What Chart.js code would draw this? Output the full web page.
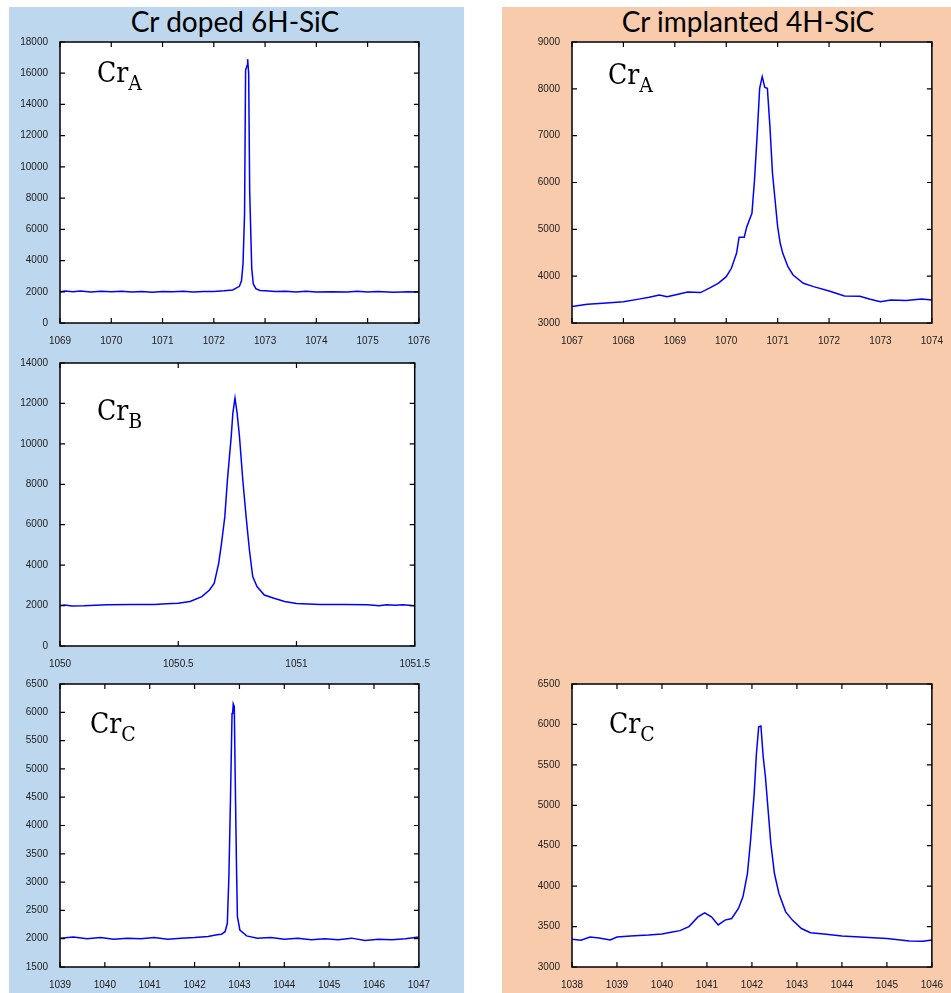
<!DOCTYPE html>
<html><head><meta charset="utf-8">
<script src="https://cdn.jsdelivr.net/npm/chart.js@4"></script>
<style>
html,body{margin:0;padding:0;background:#fff;}
body{width:951px;height:993px;position:relative;overflow:hidden;}
.panel{position:absolute;}
.title{position:absolute;font-family:Lato,"Open Sans",sans-serif;font-size:28px;line-height:34px;text-align:center;color:#000;white-space:nowrap;}
.lbl{position:absolute;font-family:"DejaVu Serif",serif;font-stretch:condensed;font-size:28px;line-height:28px;color:#000;white-space:nowrap;}
.lbl span{position:relative;top:8px;font-size:21px;}
canvas{position:absolute;}
</style></head><body>
<div class="panel" style="left:9px;top:7px;width:455px;height:986px;background:#BDD7EE"></div>
<div class="panel" style="left:502px;top:7px;width:449px;height:986px;background:#F8CBAD"></div>
<div class="title" style="left:35px;top:4px;width:400px;">Cr doped 6H-SiC</div>
<div class="title" style="left:548px;top:4px;width:400px;">Cr implanted 4H-SiC</div>
<canvas id="c1"></canvas>
<canvas id="c2"></canvas>
<canvas id="c3"></canvas>
<canvas id="c4"></canvas>
<canvas id="c5"></canvas>
<div class="lbl" style="left:97px;top:59px;">Cr<span>A</span></div>
<div class="lbl" style="left:608px;top:61px;">Cr<span>A</span></div>
<div class="lbl" style="left:97px;top:397px;">Cr<span>B</span></div>
<div class="lbl" style="left:90px;top:710px;">Cr<span>C</span></div>
<div class="lbl" style="left:609px;top:710px;">Cr<span>C</span></div>
<script>
// ---- Cr doped 6H-SiC, Cr_A ----
const dopedA_x = [1069.0,1069.1,1069.25,1069.4,1069.6,1069.8,1070.0,1070.2,1070.4,1070.6,1070.8,1071.0,1071.2,1071.4,1071.6,1071.8,1072.0,1072.2,1072.37,1072.5,1072.54,1072.57,1072.6,1072.62,1072.65,1072.66,1072.68,1072.7,1072.74,1072.77,1072.82,1072.9,1073.0,1073.2,1073.4,1073.6,1073.8,1074.0,1074.3,1074.6,1074.8,1075.0,1075.2,1075.5,1075.8,1076.0];
const dopedA_y = [2000,2050,2000,2050,1980,2040,2000,2030,1990,2020,1970,2020,2000,2030,1990,2020,2010,2060,2120,2350,2700,3800,7000,16200,16500,16900,16000,8400,3500,2500,2200,2080,2060,2020,2040,1990,2030,1980,2000,1980,2030,1990,2010,1970,2000,1990];
const dopedA_xTicks = [1069,1070,1071,1072,1073,1074,1075,1076];
const dopedA_yTicks = [0,2000,4000,6000,8000,10000,12000,14000,16000,18000];

// ---- Cr implanted 4H-SiC, Cr_A ----
const implA_x = [1067.0,1067.3,1067.6,1068.0,1068.3,1068.5,1068.7,1068.85,1069.0,1069.25,1069.5,1069.7,1069.85,1070.0,1070.1,1070.2,1070.25,1070.35,1070.4,1070.5,1070.55,1070.6,1070.65,1070.7,1070.75,1070.8,1070.85,1070.9,1070.95,1071.0,1071.05,1071.1,1071.2,1071.3,1071.5,1071.7,1072.0,1072.3,1072.6,1072.8,1073.0,1073.2,1073.5,1073.8,1074.0];
const implA_y = [3350,3400,3420,3455,3510,3549,3598,3560,3600,3662,3650,3760,3850,3989,4168,4488,4830,4830,5057,5342,6054,6980,8012,8260,8032,8012,7192,6196,5626,5057,4702,4488,4203,4025,3848,3776,3683,3577,3570,3506,3455,3490,3480,3510,3490];
const implA_xTicks = [1067,1068,1069,1070,1071,1072,1073,1074];
const implA_yTicks = [3000,4000,5000,6000,7000,8000,9000];

// ---- Cr doped 6H-SiC, Cr_B ----
const dopedB_x = [1050.0,1050.02,1050.05,1050.1,1050.2,1050.3,1050.4,1050.45,1050.5,1050.55,1050.6,1050.632,1050.652,1050.671,1050.683,1050.697,1050.708,1050.724,1050.731,1050.74,1050.749,1050.759,1050.773,1050.787,1050.801,1050.815,1050.833,1050.864,1050.905,1050.95,1051.0,1051.05,1051.1,1051.2,1051.3,1051.35,1051.38,1051.42,1051.45,1051.5];
const dopedB_y = [2000,2030,1980,1990,2040,2050,2050,2090,2110,2200,2440,2770,3100,4090,5080,6400,8210,10360,11520,12260,11520,10360,8210,6400,4750,3430,2940,2520,2360,2200,2100,2080,2050,2050,2040,1990,2040,2010,2040,1990];
const dopedB_xTicks = [1050,1050.5,1051,1051.5];
const dopedB_yTicks = [0,2000,4000,6000,8000,10000,12000,14000];

// ---- Cr doped 6H-SiC, Cr_C ----
const dopedC_x = [1039.0,1039.3,1039.6,1039.9,1040.2,1040.5,1040.8,1041.1,1041.4,1041.7,1042.0,1042.3,1042.5,1042.6,1042.68,1042.73,1042.765,1042.8,1042.835,1042.85,1042.862,1042.885,1042.905,1042.935,1042.955,1043.01,1043.16,1043.4,1043.7,1044.0,1044.3,1044.6,1044.9,1045.2,1045.5,1045.8,1046.1,1046.4,1046.7,1047.0];
const dopedC_y = [2010,2030,2000,2020,1990,2010,2000,2020,1990,2010,2020,2040,2070,2080,2124,2272,3096,4450,5980,6000,6150,6100,4890,3244,2389,2154,2050,2010,2020,1990,2010,1980,2000,1980,2010,1970,1990,1980,2000,2030];
const dopedC_xTicks = [1039,1040,1041,1042,1043,1044,1045,1046,1047];
const dopedC_yTicks = [1500,2000,2500,3000,3500,4000,4500,5000,5500,6000,6500];

// ---- Cr implanted 4H-SiC, Cr_C ----
const implC_x = [1038.0,1038.2,1038.4,1038.6,1038.85,1039.0,1039.3,1039.7,1040.0,1040.2,1040.4,1040.6,1040.8,1040.95,1041.1,1041.25,1041.4,1041.55,1041.7,1041.8,1041.9,1041.97,1042.05,1042.1,1042.15,1042.2,1042.25,1042.3,1042.36,1042.42,1042.5,1042.6,1042.75,1042.9,1043.1,1043.3,1043.6,1044.0,1044.5,1045.0,1045.5,1045.8,1046.0];
const implC_y = [3342,3330,3370,3360,3335,3370,3384,3396,3409,3430,3450,3500,3620,3670,3620,3520,3580,3600,3724,3867,4156,4568,5145,5640,5970,5980,5600,5350,4939,4527,4156,3909,3682,3580,3476,3423,3409,3384,3368,3351,3322,3320,3334];
const implC_xTicks = [1038,1039,1040,1041,1042,1043,1044,1045,1046];
const implC_yTicks = [3000,3500,4000,4500,5000,5500,6000,6500];

const boxPlugin = {
  id: 'box',
  beforeDraw(chart) {
    const {ctx, chartArea: a} = chart;
    ctx.save();
    ctx.fillStyle = '#ffffff';
    ctx.fillRect(a.left, a.top, a.right - a.left, a.bottom - a.top);
    ctx.restore();
  },
  afterDraw(chart) {
    const {ctx, chartArea: a, scales: {x, y}} = chart;
    ctx.save();
    ctx.strokeStyle = '#000';
    ctx.lineWidth = 1.5;
    ctx.strokeRect(a.left, a.top, a.right - a.left, a.bottom - a.top);
    ctx.lineWidth = 1.2;
    ctx.beginPath();
    x.ticks.forEach(t => {
      const p = x.getPixelForValue(t.value);
      ctx.moveTo(p, a.bottom); ctx.lineTo(p, a.bottom - 5);
      ctx.moveTo(p, a.top); ctx.lineTo(p, a.top + 5);
    });
    y.ticks.forEach(t => {
      const p = y.getPixelForValue(t.value);
      ctx.moveTo(a.left, p); ctx.lineTo(a.left + 5, p);
      ctx.moveTo(a.right, p); ctx.lineTo(a.right - 5, p);
    });
    ctx.stroke();
    ctx.restore();
  }
};

const tickFont = {family: '"Liberation Sans", Arial, sans-serif', size: 10};

function makeChart(id, pos, xs, ys, xTicks, yTicks) {
  const c = document.getElementById(id);
  c.width = pos.W + 70; c.height = pos.H + 32;
  c.style.left = (pos.L - 55) + 'px';
  c.style.top = (pos.T - 10) + 'px';
  new Chart(c, {
    type: 'line',
    data: {datasets: [{
      data: xs.map((x, i) => ({x: x, y: ys[i]})),
      borderColor: '#0000ff', borderWidth: 1.5, pointRadius: 0, tension: 0, fill: false
    }]},
    options: {
      responsive: false, animation: false, devicePixelRatio: 1,
      layout: {padding: {left: 0, top: 10, right: 15, bottom: 0}},
      plugins: {legend: {display: false}, tooltip: {enabled: false}},
      scales: {
        x: {
          type: 'linear', min: xTicks[0], max: xTicks[xTicks.length - 1],
          grid: {display: false}, border: {display: false},
          afterBuildTicks: s => { s.ticks = xTicks.map(v => ({value: v})); },
          afterFit: s => { s.height = 22; },
          ticks: {padding: 4, color: '#222', font: tickFont, maxRotation: 0, autoSkip: false, callback: v => String(v)}
        },
        y: {
          type: 'linear', min: yTicks[0], max: yTicks[yTicks.length - 1],
          grid: {display: false}, border: {display: false},
          afterBuildTicks: s => { s.ticks = yTicks.map(v => ({value: v})); },
          afterFit: s => { s.width = 55; },
          ticks: {padding: 4, color: '#222', font: tickFont, autoSkip: false, callback: v => String(v)}
        }
      }
    },
    plugins: [boxPlugin]
  });
}

makeChart('c1', {L: 60, T: 42, W: 359, H: 281}, dopedA_x, dopedA_y, dopedA_xTicks, dopedA_yTicks);
makeChart('c2', {L: 572, T: 42, W: 360, H: 281}, implA_x, implA_y, implA_xTicks, implA_yTicks);
makeChart('c3', {L: 60, T: 363, W: 359, H: 283}, dopedB_x, dopedB_y, dopedB_xTicks, dopedB_yTicks);
makeChart('c4', {L: 60, T: 684, W: 359, H: 283}, dopedC_x, dopedC_y, dopedC_xTicks, dopedC_yTicks);
makeChart('c5', {L: 572, T: 684, W: 360, H: 283}, implC_x, implC_y, implC_xTicks, implC_yTicks);
</script>
</body></html>
